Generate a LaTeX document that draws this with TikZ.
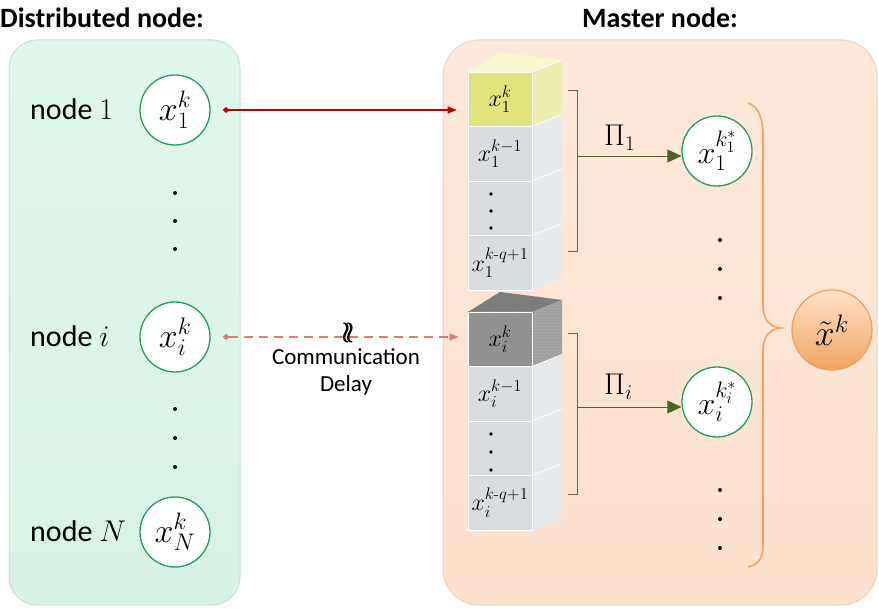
\RequirePackage{fix-cm}
\documentclass[tikz,border=0pt]{standalone}
\usepackage{amsmath}
\usepackage{fontspec}
\setsansfont{Carlito}
\usetikzlibrary{arrows.meta,patterns}
\definecolor{lpanel}{HTML}{E0F8EC}
\definecolor{lpanelb}{HTML}{D6F3E4}
\definecolor{lborder}{HTML}{C8E2D4}
\definecolor{rpanel}{HTML}{FDE9DA}
\definecolor{rpanelb}{HTML}{FBE1CC}
\definecolor{rborder}{HTML}{EAD5C4}
\definecolor{cgreen}{HTML}{21A057}
\definecolor{darr}{HTML}{C00000}
\definecolor{dash}{HTML}{E07A7A}
\definecolor{olive}{HTML}{4F6228}
\definecolor{brk}{HTML}{6E625A}
\definecolor{orng}{HTML}{F0A462}
\definecolor{yfront}{HTML}{E1E37C}
\definecolor{ytop}{HTML}{F7F8CC}
\definecolor{yside}{HTML}{ECEDAE}
\definecolor{gfront}{HTML}{D9DDE2}
\definecolor{gside}{HTML}{E6E9EC}
\definecolor{dfront}{HTML}{8A8A8A}
\definecolor{dtop}{HTML}{767676}
\definecolor{dside}{HTML}{A0A0A0}
\tikzset{
  ttl/.style={font=\sffamily\bfseries\fontsize{28}{30}\selectfont, inner sep=0pt},
  lbl/.style={font=\sffamily\fontsize{30}{32}\selectfont, inner sep=0pt, anchor=base west},
  gcirc/.style={circle, draw=cgreen, line width=1.3pt, fill=white, minimum size=70pt, inner sep=0pt, font=\fontsize{34}{36}\selectfont},
  rcirc/.style={gcirc, font=\fontsize{32}{34}\selectfont},
  cellbox/.style={rectangle, draw=white, line width=0.8pt, minimum width=64pt, minimum height=54.5pt, inner sep=0pt, font=\fontsize{24}{26}\selectfont},
  redarr/.style={draw=darr, line width=1.3pt, {Diamond[length=7pt,width=6pt]}-{Triangle[length=9pt,width=7pt]}},
  dasharr/.style={draw=dash, line width=1.3pt, dash pattern=on 9pt off 6pt, {Diamond[length=7pt,width=6pt]}-{Triangle[length=9pt,width=7pt]}},
  olarr/.style={draw=olive!80!brk, line width=0.8pt, -{Triangle[length=14pt,width=13pt,color=olive]}},
  brkline/.style={draw=brk, line width=0.8pt},
  pilbl/.style={font=\fontsize{30}{32}\selectfont, inner sep=0pt, anchor=base west},
  dot/.style={fill=black},
}
\begin{document}
\begin{tikzpicture}[x=1pt,y=-1pt]
\useasboundingbox (0,0) rectangle (879,612);
% panels
\shade[top color=lpanel, bottom color=lpanelb, rounded corners=28pt] (9,40) rectangle (240,605);
\draw[draw=lborder, line width=1pt, rounded corners=28pt] (9,40) rectangle (240,605);
\shade[top color=rpanel, bottom color=rpanelb, rounded corners=36pt] (443,40) rectangle (877,605);
\draw[draw=rborder, line width=1pt, rounded corners=36pt] (443,40) rectangle (877,605);
% titles
\node[ttl, anchor=west] (t1) at (0,18) {Distributed node:};
\node[ttl] (t2) at (660,18) {Master node:};
% left labels and circles
\node[lbl] (l1) at (30,120) {node $1$};
\node[lbl] (li) at (30,347) {node $i$};
\node[lbl] (lN) at (30,541) {node $N$};
\node[gcirc] (n1) at (175,110) {$x_1^k$};
\node[gcirc] (ni) at (175,337) {$x_i^k$};
\node[gcirc] (nN) at (175,532) {$x_N^k$};
\foreach \yy in {193,221,249,409,438,467} \fill[dot] (175,\yy) circle (2pt);
% top stack
\fill[ytop] (468,72) -- (532,72) -- (562,60) -- (500,52) -- cycle;
\fill[gside] (532,126.5) -- (562,114.5) -- (562,278) -- (532,290) -- cycle;
\fill[yside] (532,72) -- (562,60) -- (562,114.5) -- (532,126.5) -- cycle;
\draw[white, line width=0.8pt] (468,72) -- (532,72) -- (562,60);
\draw[white, line width=0.8pt] (532,72) -- (532,290);
\foreach \yy in {126.5,181,235.5} \draw[white, line width=0.8pt] (532,\yy) -- (562,\yy-12);
\node[cellbox, fill=yfront] (a1) at (500,99.25) {$x_1^k$};
\node[cellbox, fill=gfront] (a2) at (500,153.75) {$x_1^{k-1}$};
\node[cellbox, fill=gfront] (a3) at (500,208.25) {};
\node[cellbox, fill=gfront] (a4) at (500,262.75) {$x_1^{k\text{-}q+1}$};
\foreach \yy in {194,211,228} \fill[dot] (491,\yy) circle (1.8pt);
% bottom stack
\fill[dtop] (468,312) -- (532,312) -- (562,300) -- (500,292) -- cycle;
\fill[pattern=north east lines, pattern color=black!45] (468,312) -- (532,312) -- (562,300) -- (500,292) -- cycle;
\fill[gside] (532,366.5) -- (562,354.5) -- (562,518) -- (532,530) -- cycle;
\fill[dside] (532,312) -- (562,300) -- (562,354.5) -- (532,366.5) -- cycle;
\fill[pattern=horizontal lines, pattern color=black!35] (532,312) -- (562,300) -- (562,354.5) -- (532,366.5) -- cycle;
\draw[white, line width=0.8pt] (532,312) -- (532,530);
\foreach \yy in {366.5,421,475.5} \draw[white, line width=0.8pt] (532,\yy) -- (562,\yy-12);
\fill[dfront] (468,312) rectangle (532,366.5);
\fill[pattern=crosshatch, pattern color=black!40] (468,312) rectangle (532,366.5);
\node[cellbox] (b1) at (500,339.25) {$x_i^k$};
\node[cellbox, fill=gfront] (b2) at (500,393.75) {$x_i^{k-1}$};
\node[cellbox, fill=gfront] (b3) at (500,448.25) {};
\node[cellbox, fill=gfront] (b4) at (500,502.75) {$x_i^{k\text{-}q+1}$};
\foreach \yy in {434,452,470} \fill[dot] (491,\yy) circle (1.8pt);
% arrows from distributed nodes
\draw[redarr, shorten <=12pt, shorten >=11pt] (n1.east) -- (n1.east -| a1.west);
\draw[dasharr, shorten <=12pt, shorten >=9pt] (ni.east) -- (ni.east -| b1.west);
\node[font=\boldmath\fontsize{30}{32}\selectfont, inner sep=0pt] (wav) at (348,333) {$\wr\!\wr$};
\node[font=\sffamily\fontsize{23}{27}\selectfont, align=center, inner sep=0pt] (cd) at (346,372) {Communication\\Delay};
% brackets
\draw[brkline] (568,90) -- (577,90) -- (577,251) -- (568,251);
\draw[brkline] (568,333) -- (577,333) -- (577,494) -- (568,494);
\coordinate (m1) at (577,156);
\coordinate (mi) at (577,407);
\node[rcirc] (r1) at (717,151) {$x_1^{k_1^*}$};
\node[rcirc] (ri) at (717,402) {$x_i^{k_i^*}$};
\draw[olarr] (m1) -- (m1 -| r1.west);
\draw[olarr] (mi) -- (mi -| ri.west);
\node[pilbl] (p1) at (604,146) {$\Pi_1$};
\node[pilbl] (pi) at (604,395) {$\Pi_i$};
\foreach \yy in {240,269,298,490,519,548} \fill[dot] (720,\yy) circle (2pt);
% brace
\draw[orng, line width=1.6pt] (748,103) .. controls (757,106) and (763,116) .. (763,135) -- (763,306) .. controls (763,320) and (770,327) .. (781,328) .. controls (770,329) and (763,336) .. (763,350) -- (763,547) .. controls (763,559) and (757,565) .. (748,567);
\node[circle, draw=orng!90!brown, line width=1.2pt, top color=orange!22!white, bottom color=orng, minimum size=80pt, inner sep=0pt, font=\fontsize{36}{38}\selectfont] (xt) at (832,330) {$\tilde{x}^k$};
\end{tikzpicture}
\end{document}
